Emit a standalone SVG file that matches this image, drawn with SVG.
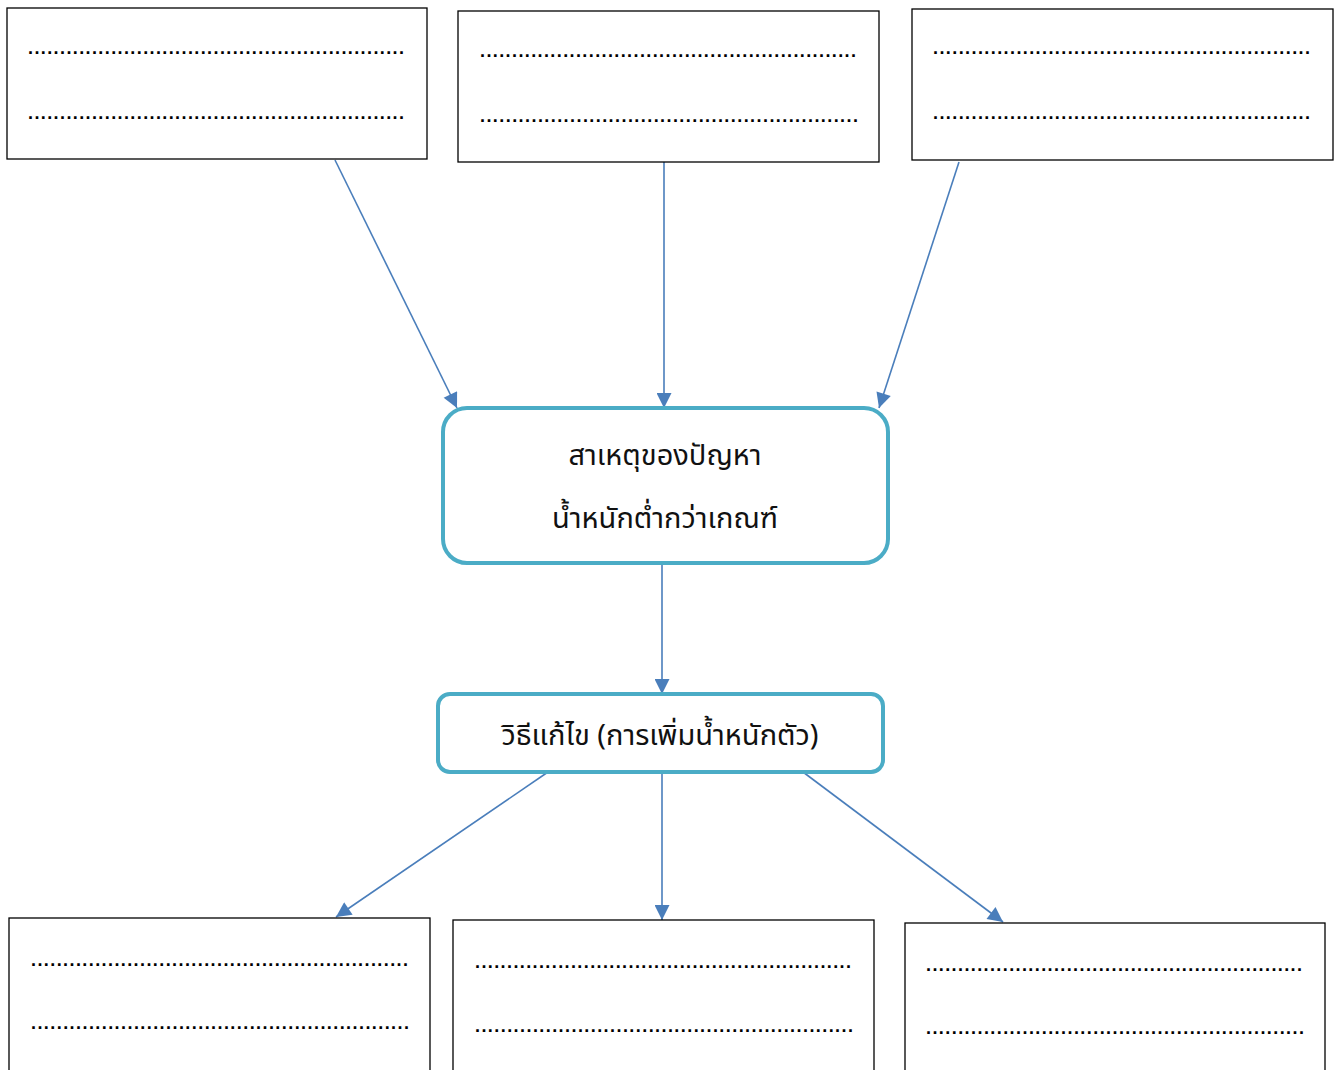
<svg xmlns="http://www.w3.org/2000/svg" width="1338" height="1070" viewBox="0 0 1338 1070">
<defs>
<marker id="ah" viewBox="0 0 10 10" refX="10" refY="5" markerWidth="17" markerHeight="15" markerUnits="userSpaceOnUse" orient="auto">
<path d="M0,0 L10,5 L0,10 z" fill="#4A7EBB"/>
</marker>
<style>
.box{fill:#fff;stroke:#000;stroke-width:1.3}
.rb{fill:#fff;stroke:#4BACC6;stroke-width:4}
.dots{font-family:"Liberation Sans",Arial,sans-serif;font-size:18px;font-weight:bold;fill:#000}
.th{font-family:"Noto Sans Thai","Noto Sans","DejaVu Sans","Liberation Sans",sans-serif;font-size:29px;fill:#111;text-anchor:middle}
.cn{stroke:#4A7EBB;stroke-width:1.6;fill:none;marker-end:url(#ah)}
</style>
</defs>
<rect width="1338" height="1070" fill="#fff"/>
<g id="connectors">
<line class="cn" x1="335" y1="160" x2="457" y2="408"/>
<line class="cn" x1="664" y1="162" x2="664" y2="408"/>
<line class="cn" x1="959" y1="162" x2="879" y2="408"/>
<line class="cn" x1="662" y1="563" x2="662" y2="694"/>
<line class="cn" x1="548" y1="772" x2="336" y2="917"/>
<line class="cn" x1="662" y1="772" x2="662" y2="920"/>
<line class="cn" x1="803" y1="772" x2="1003" y2="922"/>
</g>
<g id="top1">
<rect class="box" x="7" y="8" width="420" height="151"/>
<text class="dots" x="28" y="54" textLength="376" lengthAdjust="spacing">...........................................................</text>
<text class="dots" x="28" y="119" textLength="376" lengthAdjust="spacing">...........................................................</text>
</g>
<g id="top2">
<rect class="box" x="458" y="11" width="421" height="151"/>
<text class="dots" x="480" y="57" textLength="376" lengthAdjust="spacing">...........................................................</text>
<text class="dots" x="480" y="122" textLength="378" lengthAdjust="spacing">...........................................................</text>
</g>
<g id="top3">
<rect class="box" x="912" y="9" width="421" height="151"/>
<text class="dots" x="933" y="54" textLength="377" lengthAdjust="spacing">...........................................................</text>
<text class="dots" x="933" y="119" textLength="377" lengthAdjust="spacing">...........................................................</text>
</g>
<g id="cause">
<rect class="rb" x="443" y="408" width="445" height="155" rx="24"/>
<text class="th" x="665" y="465">สาเหตุของปัญหา</text>
<text class="th" x="665" y="528">น้ำหนักต่ำกว่าเกณฑ์</text>
</g>
<g id="solution">
<rect class="rb" x="438" y="694" width="445" height="78" rx="12"/>
<text class="th" x="660" y="745">วิธีแก้ไข (การเพิ่มน้ำหนักตัว)</text>
</g>
<g id="bot1">
<rect class="box" x="9" y="918" width="421" height="160"/>
<text class="dots" x="31" y="966" textLength="377" lengthAdjust="spacing">...........................................................</text>
<text class="dots" x="31" y="1029" textLength="378" lengthAdjust="spacing">...........................................................</text>
</g>
<g id="bot2">
<rect class="box" x="453" y="920" width="421" height="160"/>
<text class="dots" x="475" y="968" textLength="376" lengthAdjust="spacing">...........................................................</text>
<text class="dots" x="475" y="1032" textLength="378" lengthAdjust="spacing">...........................................................</text>
</g>
<g id="bot3">
<rect class="box" x="905" y="923" width="420" height="160"/>
<text class="dots" x="926" y="971" textLength="376" lengthAdjust="spacing">...........................................................</text>
<text class="dots" x="926" y="1034" textLength="378" lengthAdjust="spacing">...........................................................</text>
</g>
</svg>
